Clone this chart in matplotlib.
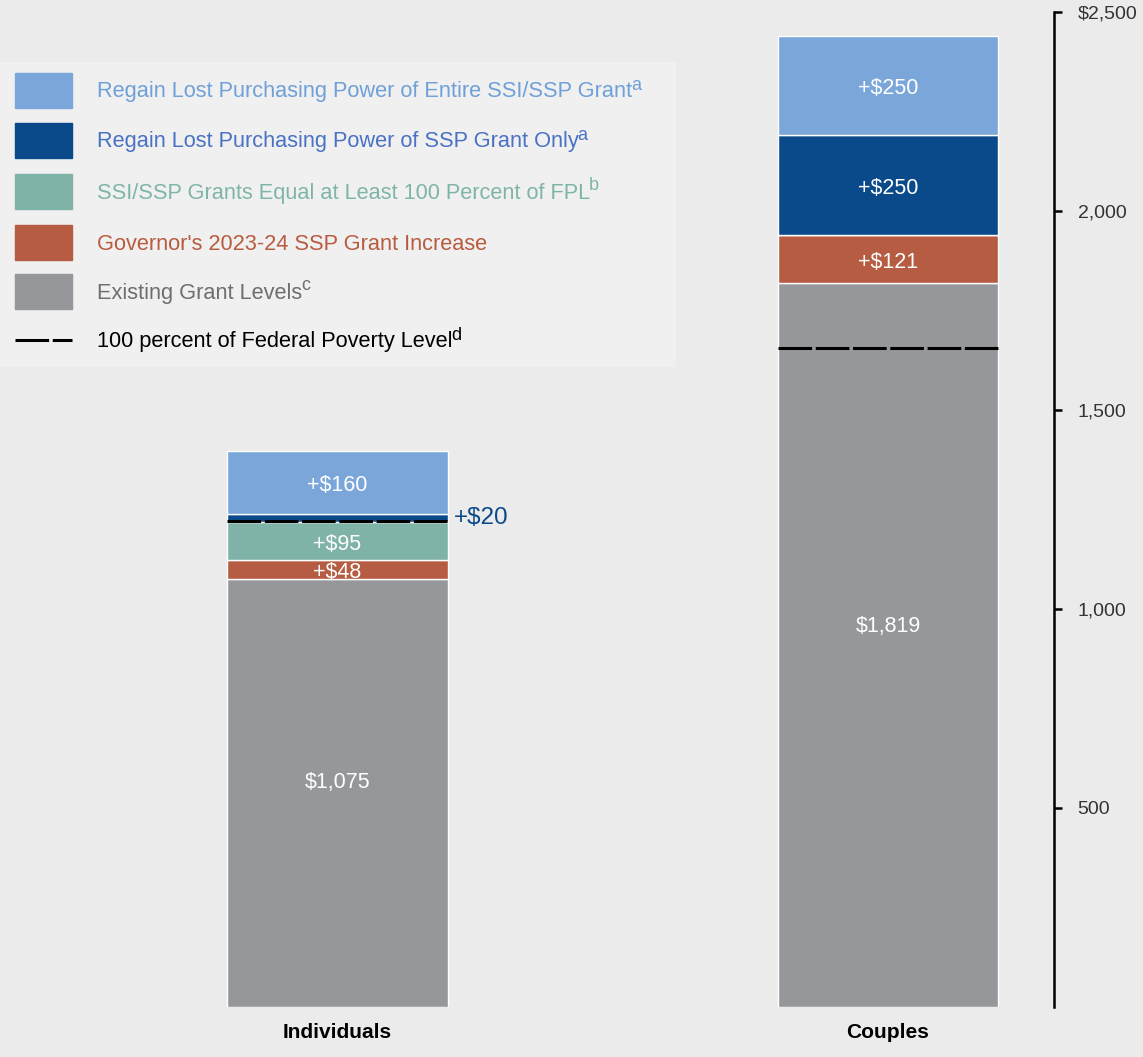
import matplotlib
matplotlib.use("Agg")
import matplotlib.pyplot as plt
from matplotlib.patches import Rectangle

plt.rcParams['font.family'] = ['Liberation Sans', 'DejaVu Sans']

# data
groups = ["Individuals", "Couples"]
existing = [1075, 1819]
governor = [48, 121]
fpl_fill = [95, 0]
ssp_only = [20, 250]
entire = [160, 250]
fpl_level = [1220, 1655]

seg_names = ["Existing Grant Levels",
             "Governor's 2023-24 SSP Grant Increase",
             "SSI/SSP Grants Equal at Least 100 Percent of FPL",
             "Regain Lost Purchasing Power of SSP Grant Only",
             "Regain Lost Purchasing Power of Entire SSI/SSP Grant"]
seg_notes = ["c", "", "b", "a", "a"]
seg_colors = ["#96979b", "#b55c42", "#7fb3a8", "#0b4a8a", "#7ba6d9"]
text_colors = ["#6e6e6e", "#b85c3f", "#7fb5a8", "#4a72c4", "#6fa0d8"]
segments = [existing, governor, fpl_fill, ssp_only, entire]

bg = "#ebebeb"
fig = plt.figure(figsize=(11.43, 10.57), dpi=100, facecolor=bg)
ax = fig.add_axes([0, 50 / 1057, 1054 / 1143, 995 / 1057])
ax.set_facecolor(bg)

x = [0, 1]
w = 0.4
bottoms = [0, 0]
for k, seg in enumerate(segments):
    ax.bar(x, seg, w, bottom=bottoms, color=seg_colors[k],
           edgecolor="white", linewidth=1)
    for i in range(2):
        if seg[i] == 0:
            continue
        if k == 0:
            ax.text(x[i], seg[i] * 0.525, "${:,}".format(seg[i]), color="white",
                    ha="center", va="center", fontsize=15.5)
        elif k == 3 and i == 0:
            ax.text(x[i] + w / 2 + 0.012, bottoms[i] + seg[i] / 2, "+${}".format(seg[i]),
                    color="#0b4a8a", ha="left", va="center", fontsize=17.5)
        else:
            ax.text(x[i], bottoms[i] + seg[i] / 2 - 8, "+${}".format(seg[i]), color="white",
                    ha="center", va="center", fontsize=15.5)
        bottoms[i] += seg[i]

for i in range(2):
    ax.plot([x[i] - w / 2, x[i] + w / 2], [fpl_level[i], fpl_level[i]],
            color="black", lw=2.2, dashes=(11, 1.2), solid_capstyle="butt")

ax.set_xlim(-337.5 / 550.5, (1054 - 337.5) / 550.5)
ax.set_ylim(0, 2500)
for s in ["left", "top", "bottom"]:
    ax.spines[s].set_visible(False)
ax.spines["right"].set_linewidth(1.8)
ax.spines["right"].set_bounds(0, 2500)
ax.yaxis.tick_right()
ax.set_yticks([500, 1000, 1500, 2000, 2500])
ax.set_yticklabels(["500", "1,000", "1,500", "2,000", "$2,500"])
ax.tick_params(axis="y", direction="out", length=6, width=1.8, pad=11,
               labelsize=14, labelcolor="#333333")
ax.set_xticks([])
for i in range(2):
    ax.text(x[i], -65, groups[i], ha="center", va="center", fontsize=15,
            fontweight="bold", color="black")

# legend drawn in pixel coordinates
lg = fig.add_axes([0, 0, 1, 1], facecolor="none")
lg.set_xlim(0, 1143)
lg.set_ylim(1057, 0)
lg.axis("off")
lg.add_patch(Rectangle((0, 62), 675, 304, color="#f0f0f0", zorder=0))
renderer = fig.canvas.get_renderer()
inv = lg.transData.inverted()


def legend_text(y, label, note, color):
    t = lg.text(97, y + 2, label, color=color, fontsize=15.7, va="center")
    if note:
        bb = t.get_window_extent(renderer)
        x_end = inv.transform((bb.x1, bb.y1))[0]
        lg.text(x_end - 1, y - 5, note, color=color, fontsize=13, va="center")


rows = [90, 140, 191, 242, 291]
order = [4, 3, 2, 1, 0]
for r, k in zip(rows, order):
    lg.add_patch(Rectangle((15, r - 17), 57, 35, color=seg_colors[k]))
    legend_text(r, seg_names[k], seg_notes[k], text_colors[k])
lg.plot([15, 72], [340, 340], color="black", lw=2.2, dashes=(11, 1.2))
legend_text(340, "100 percent of Federal Poverty Level", "d", "black")

fig.savefig("out.png", dpi=100, facecolor=bg)
